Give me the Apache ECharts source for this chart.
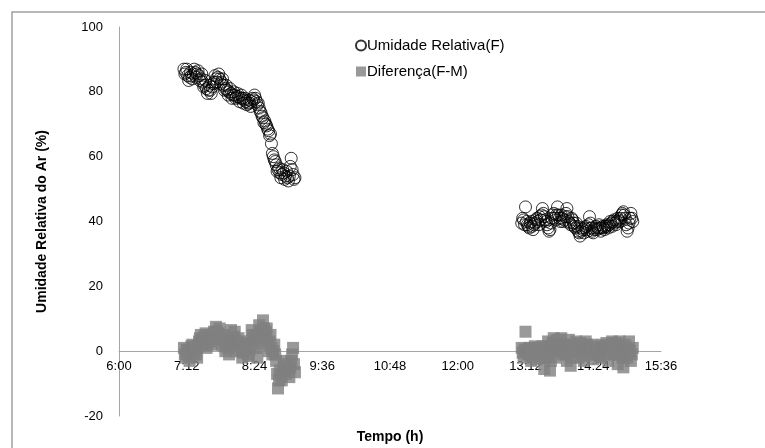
<!DOCTYPE html>
<html><head><meta charset="utf-8">
<script src="https://cdn.jsdelivr.net/npm/echarts@6/dist/echarts.min.js"></script>
<style>html,body{margin:0;padding:0;background:#fff}#c{width:765px;height:448px}</style>
</head><body><div id="c"></div>
<script>
const morningTimes = ["7:09","7:10","7:11","7:12","7:13","7:14","7:15","7:16","7:17","7:18","7:19","7:20","7:21","7:22","7:23","7:24","7:25","7:26","7:27","7:28","7:29","7:30","7:31","7:32","7:33","7:34","7:35","7:36","7:37","7:38","7:39","7:40","7:41","7:42","7:43","7:44","7:45","7:46","7:47","7:48","7:49","7:50","7:51","7:52","7:53","7:54","7:55","7:56","7:57","7:58","7:59",
"8:00","8:01","8:02","8:03","8:04","8:05","8:06","8:07","8:08","8:09","8:10","8:11","8:12","8:13","8:14","8:15","8:16","8:17","8:18","8:19","8:20","8:21","8:22","8:23","8:24","8:25","8:26","8:27","8:28","8:29","8:30","8:31","8:32","8:33","8:34","8:35","8:36","8:37","8:38","8:39","8:40","8:41","8:42","8:43","8:44","8:45","8:46","8:47","8:48","8:49","8:50","8:51","8:52","8:53","8:54","8:55","8:56","8:57","8:58","8:59",
"9:00","9:01","9:02","9:03","9:04","9:05","9:06","9:07"];
const afternoonTimes = ["13:08","13:09","13:10","13:11","13:12","13:13","13:14","13:15","13:16","13:17","13:18","13:19","13:20","13:21","13:22","13:23","13:24","13:25","13:26","13:27","13:28","13:29","13:30","13:31","13:32","13:33","13:34","13:35","13:36","13:37","13:38","13:39","13:40","13:41","13:42","13:43","13:44","13:45","13:46","13:47","13:48","13:49","13:50","13:51","13:52","13:53","13:54","13:55","13:56","13:57","13:58","13:59",
"14:00","14:01","14:02","14:03","14:04","14:05","14:06","14:07","14:08","14:09","14:10","14:11","14:12","14:13","14:14","14:15","14:16","14:17","14:18","14:19","14:20","14:21","14:22","14:23","14:24","14:25","14:26","14:27","14:28","14:29","14:30","14:31","14:32","14:33","14:34","14:35","14:36","14:37","14:38","14:39","14:40","14:41","14:42","14:43","14:44","14:45","14:46","14:47","14:48","14:49","14:50","14:51","14:52","14:53","14:54","14:55","14:56","14:57","14:58","14:59",
"15:00","15:01","15:02","15:03","15:04","15:05","15:06"];
const umidadeMorning = [87,85.5,86,87,85,83.5,84.5,86,85,84,
85.5,87,86,84.5,85.5,86.5,85,83.5,84,85.5,
83,81.5,82,83.5,81,79.5,80.5,82,80.5,79.5,
81.5,82.5,83,85,84,83,84.5,85.5,84,82.5,
83,84,82,80.5,81,82,80.5,79,80,81,
79.5,78,79,80,79,78,78.5,79.5,78.5,77,
78,79,78,76.5,77.5,78,77,76,76.5,77.5,
76.5,75.5,77,78,77.5,79,78,77,76,76.5,
75,74,73.5,72.5,72,70.5,71,70,69.5,68.5,
68,66.5,67,64,61,60,59,58.5,57.5,55.5,
56,56.5,55,53.5,54.5,56,55,53,54,55.5,
53.5,52.5,54,57,59.5,56,54.5,53,53.5];
const umidadeAfternoon = [39.5,41,40.5,39,44.5,40,39,38.5,38,39.5,
40,38.5,37.5,39,39.5,40.5,41,40,39,41.5,
40.5,42,44,42.5,41.5,40.5,40,39,38,37,
37.5,39.5,41,42,42.5,41,40.5,42,44.5,42,
41,40,42,41,40,40.5,41.5,42.5,44,41.5,
40,39.5,39,41,40.5,39.5,38.5,38,39.5,38.5,
37,36.5,35.5,37,38,37.5,36.5,38,38.5,37.5,
37,39,41.5,39.5,38,37,36.5,37.5,38,38.5,
37.5,38,39,38,37,38,38.5,38,37.5,38.5,
39,38.5,38,39,40,39.5,38.5,40,40.5,39.5,
39,40,41,40.5,40,41,42,42.5,43,42,
41,39,37,38,39.5,41,42.5,41,40];
const diferencaMorning = [1,-1,-2,0.5,0,-1.5,-3,0,1.5,2,
-1,1,0.5,-1,-2,1.5,3,4,5,3.5,
2,3,4.5,5.5,1,2,3,4,5,3,
2,4,6,5,7.5,6,4,5.5,7,4,
2,3.5,5,1.5,0,2,3,1,-1,3,
6.5,4,2,4.5,6,3,0,2,4,3,
2,0,-2,-0.5,1,2,2.5,1,-1,-1.5,
0.5,3,6.5,5,3,4,5,1,-2,5,
8,6,2,5,9.5,7,4,6,7,3,
0,3,5,1,-1,0,2,-1,-3,-7,
-11.5,-9,-6,-7.5,-9,-6,-4,-5,-7,-3,
-5,-6,-8,-5,-3,-1,1,-4,-6.5];
const diferencaAfternoon = [1,-0.5,-2,0.5,6,0,-1,0.5,1,-1,
-3,-1.5,0,1,1.5,-1,-2.5,0,1,0.5,
-1,0,1.5,-2,-5.5,-2,0,1.5,3,-2,
-6,-3,1,2.5,4,1,-2,0,3.5,2,
0,2,4,1.5,-1,0.5,2,-1,-3,0,
3.5,0,-4.5,-2,1,2,0,1.5,3,0,
-2,0,2.5,1,0,-1.5,-3,0,3,2,
1,0,-1,0.5,2,0,-2.5,-1,0,1,
1.5,0,-1,-1.5,-2,0,2,1,0.5,1.5,
2.5,0,-3,-1,1,2,3,1,-1,0.5,
2.5,1,-4,-1,3,1.5,0,-2,-5,-1,
2,0,-2,0.5,3,0,-3,-1,1];
const yTicks = [-20,0,20,40,60,80,100];

function toH(s){const p=s.split(':');return +p[0]+(+p[1])/60;}
function pairs(times, vals){return times.map((t,i)=>[toH(t), vals[i]]);}
function fmt(v){const m=Math.round(v*60);const h=Math.floor(m/60);const mm=m%60;return h+':'+(mm<10?'0':'')+mm;}

const chart = echarts.init(document.getElementById('c'), null, {renderer:'canvas'});
const font = 'Liberation Sans, Arial, sans-serif';
chart.setOption({
  animation:false,
  backgroundColor:'#fff',
  textStyle:{fontFamily:font},
  grid:{left:119,right:104,top:27,bottom:32,containLabel:false,outerBoundsMode:'none'},
  legend:{
    orient:'vertical', left:350, top:33, itemGap:11, itemWidth:10, itemHeight:10,
    textStyle:{fontSize:15,color:'#000',fontFamily:font,padding:[0,0,0,-4]},
    data:['Umidade Relativa(F)','Diferença(F-M)']
  },
  xAxis:{
    type:'value', min:6, max:15.6, interval:1.2, position:'bottom', offset:-65,
    name:'Tempo (h)', nameLocation:'middle', nameGap:79,
    nameTextStyle:{fontWeight:'bold',fontSize:14,color:'#000',fontFamily:font},
    axisLine:{show:true,onZero:false,lineStyle:{color:'#a6a6a6',width:1}},
    axisTick:{show:false},
    splitLine:{show:false},
    axisLabel:{formatter:fmt,fontSize:13,color:'#000',margin:9,fontFamily:font,showMinLabel:true,showMaxLabel:true}
  },
  yAxis:{
    type:'value', min:yTicks[0], max:yTicks[yTicks.length-1], interval:20,
    name:'Umidade Relativa do Ar (%)', nameLocation:'middle', nameGap:70,
    nameTextStyle:{fontWeight:'bold',fontSize:14,color:'#000',fontFamily:font},
    axisLine:{show:true,onZero:false,lineStyle:{color:'#a6a6a6',width:1}},
    axisTick:{show:false},
    splitLine:{show:false},
    axisLabel:{fontSize:13,color:'#000',margin:16,fontFamily:font}
  },
  graphic:[{type:'polyline',shape:{points:[[12,448],[12,12],[765,12]]},style:{stroke:'#a0a0a0',lineWidth:1.5,fill:null},silent:true}],
  series:[
    {name:'Umidade Relativa(F)',type:'scatter',symbol:'circle',symbolSize:12,
     itemStyle:{color:'rgba(255,255,255,0)',borderColor:'#000',borderWidth:1},
     data:pairs(morningTimes,umidadeMorning).concat(pairs(afternoonTimes,umidadeAfternoon)), z:3},
    {name:'Diferença(F-M)',type:'scatter',symbol:'rect',symbolSize:12,
     itemStyle:{color:'#808080'},
     data:pairs(morningTimes,diferencaMorning).concat(pairs(afternoonTimes,diferencaAfternoon)), z:2}
  ]
});
</script></body></html>
